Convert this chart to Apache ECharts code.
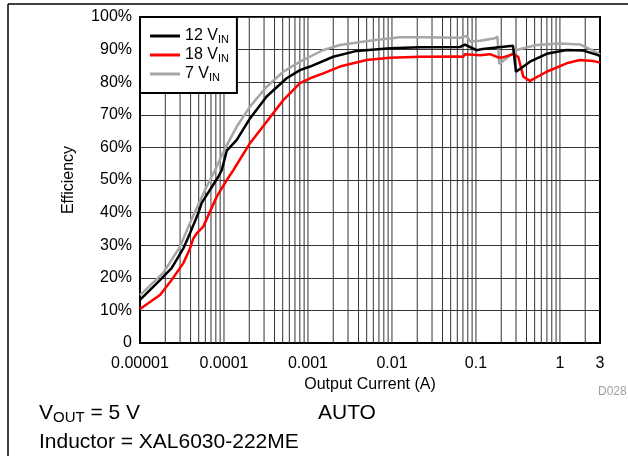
<!DOCTYPE html>
<html>
<head>
<meta charset="utf-8">
<script src="https://cdn.jsdelivr.net/npm/echarts@6/dist/echarts.min.js"></script>
<style>
html,body{margin:0;padding:0;background:#fff;}
#chart{width:628px;height:456px;}
</style>
</head>
<body>
<div id="chart"></div>
<script>
// ---- data ----
const seriesNames = ['12 VIN', '18 VIN', '7 VIN'];
const xTickLabels = ['0.00001', '0.0001', '0.001', '0.01', '0.1', '1', '3'];
const xTickValues = [0.00001, 0.0001, 0.001, 0.01, 0.1, 1, 3];

const current12 = [1e-5, 1.73e-5, 2.38e-5, 3.28e-5, 3.94e-5, 4.94e-5, 5.43e-5, 8.55e-5, 9.39e-5, 1.08e-4, 1.42e-4, 2.04e-4, 3.22e-4, 5.57e-4, 8.03e-4, 1.06e-3, 2.0e-3, 3.8e-3, 9.46e-3, 2.15e-2, 6.45e-2, 7.4e-2, 0.102, 0.12, 0.276, 0.29, 0.3, 0.44, 0.695, 1.2, 1.9, 2.85, 3.0];
const eff12 = [13.2, 19.3, 23, 29, 33.7, 39.8, 43, 51, 53, 59, 62.3, 68.9, 75.6, 81.2, 83.7, 84.8, 87.8, 89.6, 90.4, 90.7, 90.8, 91.5, 89.8, 90.2, 91.2, 91.2, 83.2, 86.3, 88.7, 89.9, 89.7, 88.3, 88.0];

const current18 = [1e-5, 1.73e-5, 2.38e-5, 3.28e-5, 3.94e-5, 4.31e-5, 4.73e-5, 5.67e-5, 8.19e-5, 1.08e-4, 1.29e-4, 2.04e-4, 3.22e-4, 5.08e-4, 8.03e-4, 1.06e-3, 1.52e-3, 2.4e-3, 5e-3, 9.46e-3, 2.15e-2, 5.89e-2, 7.06e-2, 7.4e-2, 7.75e-2, 0.112, 0.147, 0.184, 0.21, 0.278, 0.319, 0.366, 0.44, 0.695, 1.2, 1.73, 2.49, 3.0];
const eff18 = [10.4, 14.7, 19.3, 24.5, 29, 32, 33.6, 35.7, 44.9, 50, 53, 61.3, 67.9, 74.5, 79.7, 81.2, 82.7, 84.8, 86.8, 87.5, 87.8, 87.9, 87.8, 88.6, 88.0, 88.3, 88.6, 87.6, 87.6, 88.6, 87.8, 81.7, 80.4, 83.2, 85.8, 86.8, 86.5, 86.0];

const current7 = [1e-5, 1.89e-5, 2.99e-5, 4.12e-5, 6.22e-5, 7.81e-5, 1.03e-4, 1.42e-4, 2.04e-4, 3.22e-4, 5.08e-4, 8.03e-4, 1.5e-3, 2.4e-3, 6e-3, 1.24e-2, 2.15e-2, 6.45e-2, 7.75e-2, 8.5e-2, 0.112, 0.168, 0.18, 0.19, 0.305, 0.528, 1.0, 1.73, 2.85, 3.0];
const eff7 = [14.7, 21.5, 29.5, 38, 48, 53, 59.7, 66.4, 72.5, 78.6, 83.2, 86.3, 89.8, 91.4, 92.9, 93.8, 93.8, 93.6, 94.2, 92.5, 92.7, 93.5, 94.0, 85.6, 89.9, 91.4, 91.9, 91.6, 88.9, 88.5];

// ---- build ----
const FONT = '"Liberation Sans", Arial, sans-serif';
const zip = (xs, ys) => xs.map((x, i) => [x, ys[i]]);

// log-grid lines (decades and 2..9 multiples) up to axis max 3
const gridValues = [];
for (let d = -5; d <= 0; d++) {
  for (let k = 1; k <= 9; k++) {
    const v = k * Math.pow(10, d);
    if (v > 1e-5 * 1.0001 && v < 3 * 0.9999) gridValues.push(v);
  }
}
const gridData = [];
gridValues.forEach(v => { gridData.push([v, 0], [v, 100], [v, '-']); });

const chart = echarts.init(document.getElementById('chart'), null, {renderer: 'canvas'});

const subRich = {
  sub: {fontSize: 11, fontFamily: FONT, color: '#000', verticalAlign: 'bottom', lineHeight: 10}
};

const option = {
  animation: false,
  backgroundColor: '#fff',
  textStyle: {fontFamily: FONT},
  grid: {left: 140, top: 17, right: 28, bottom: 113, show: true, borderColor: '#000', borderWidth: 2, backgroundColor: '#fff'},
  title: [
    {text: 'V{sub|OUT} = 5 V', left: 39, top: 401, padding: 0,
     textStyle: {fontSize: 21, fontWeight: 'normal', color: '#000', fontFamily: FONT, lineHeight: 24,
       rich: {sub: {fontSize: 15, fontFamily: FONT, color: '#000', verticalAlign: 'bottom', lineHeight: 14}}}},
    {text: 'AUTO', left: 318, top: 403, padding: 0,
     textStyle: {fontSize: 21, fontWeight: 'normal', color: '#000', fontFamily: FONT}},
    {text: 'Inductor = XAL6030-222ME', left: 39, top: 432, padding: 0,
     textStyle: {fontSize: 21, fontWeight: 'normal', color: '#000', fontFamily: FONT}},
    {text: 'D028', left: 598, top: 386, padding: 0,
     textStyle: {fontSize: 12, fontWeight: 'normal', color: '#a0a0a0', fontFamily: FONT}}
  ],
  legend: {
    data: seriesNames,
    orient: 'vertical',
    left: 140, top: 17,
    padding: [10, 8, 10, 10],
    itemGap: 1,
    itemWidth: 30, itemHeight: 3,
    icon: 'rect',
    backgroundColor: '#fff',
    borderColor: '#000', borderWidth: 2,
    borderRadius: 0,
    textStyle: {fontSize: 16, color: '#000', fontFamily: FONT, lineHeight: 18, rich: subRich},
    formatter: name => name.replace('VIN', 'V{sub|IN}'),
    z: 10
  },
  xAxis: {
    type: 'log', logBase: 10, min: 1e-5, max: 3,
    name: 'Output Current (A)', nameLocation: 'middle', nameGap: 31,
    nameTextStyle: {fontSize: 16, color: '#000', fontFamily: FONT},
    axisLine: {show: true, lineStyle: {color: '#000', width: 2}},
    axisTick: {show: false},
    splitLine: {show: false},
    axisLabel: {
      fontSize: 16, color: '#000', fontFamily: FONT, margin: 13,
      showMinLabel: true, showMaxLabel: true, interval: 0,
      formatter: v => {
        let best = 0, bd = Infinity;
        xTickValues.forEach((t, i) => {
          const dd = Math.abs(Math.log10(v) - Math.log10(t));
          if (dd < bd) { bd = dd; best = i; }
        });
        return xTickLabels[best];
      }
    }
  },
  yAxis: {
    type: 'value', min: 0, max: 100, interval: 10,
    name: 'Efficiency', nameLocation: 'middle', nameGap: 63, nameRotate: 90,
    nameTextStyle: {fontSize: 16, color: '#000', fontFamily: FONT},
    axisLine: {show: true, lineStyle: {color: '#000', width: 2}},
    axisTick: {show: false},
    splitLine: {show: true, lineStyle: {color: '#333', width: 1}},
    axisLabel: {fontSize: 16, color: '#000', fontFamily: FONT, margin: 8,
      formatter: v => v === 0 ? '0' : v + '%'}
  },
  graphic: [
    {type: 'line', shape: {x1: 8, y1: 4, x2: 628, y2: 4}, style: {stroke: '#000', lineWidth: 1.5}, silent: true},
    {type: 'line', shape: {x1: 8, y1: 4, x2: 8, y2: 456}, style: {stroke: '#000', lineWidth: 1.5}, silent: true}
  ],
  series: [
    {
      name: 'grid', type: 'line', data: gridData, z: 1, silent: true,
      showSymbol: false, symbol: 'none', connectNulls: false,
      lineStyle: {color: '#333', width: 1}
    },
    {name: seriesNames[2], type: 'line', data: zip(current7, eff7), showSymbol: false, symbol: 'none',
     lineStyle: {color: '#a6a6a6', width: 2.5}, itemStyle: {color: '#a6a6a6'}, z: 3},
    {name: seriesNames[1], type: 'line', data: zip(current18, eff18), showSymbol: false, symbol: 'none',
     lineStyle: {color: '#ff0000', width: 2.5}, itemStyle: {color: '#ff0000'}, z: 4},
    {name: seriesNames[0], type: 'line', data: zip(current12, eff12), showSymbol: false, symbol: 'none',
     lineStyle: {color: '#000000', width: 2.5}, itemStyle: {color: '#000000'}, z: 5}
  ]
};
chart.setOption(option);
</script>
</body>
</html>
